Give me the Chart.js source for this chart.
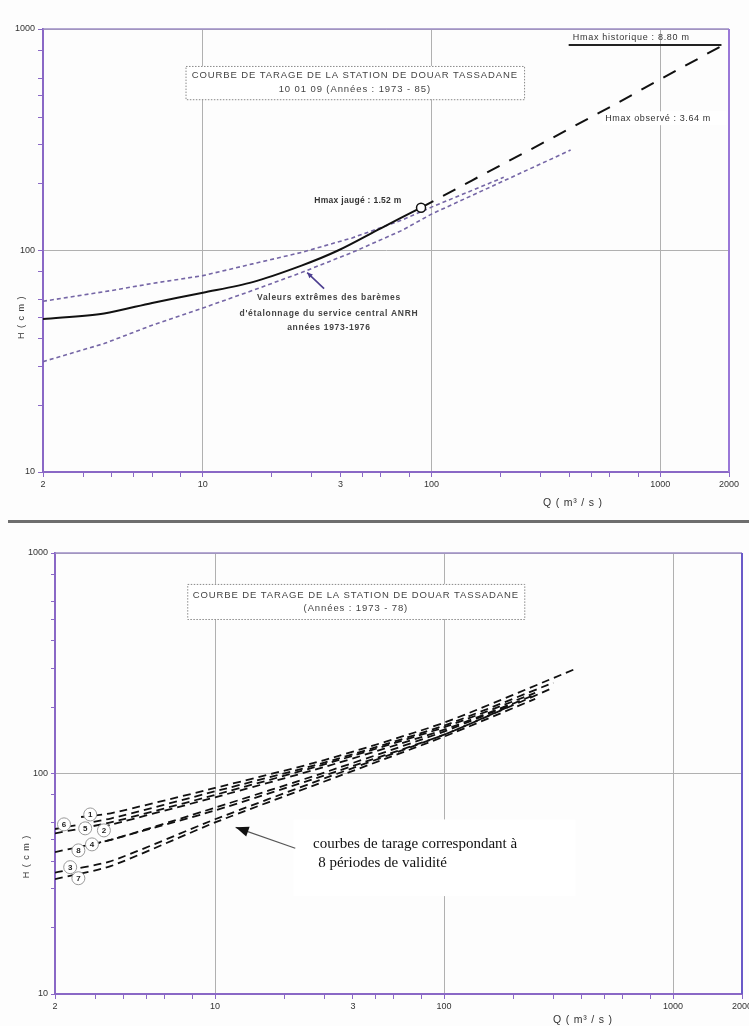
<!DOCTYPE html>
<html><head><meta charset="utf-8">
<script src="https://cdn.jsdelivr.net/npm/chart.js@4.4.1/dist/chart.umd.min.js"></script>
<style>
html,body{margin:0;padding:0;background:#fdfdfd;}
#wrap{position:relative;width:749px;height:1026px;overflow:hidden;background:#fdfdfd;}
#c1{position:absolute;left:0;top:0;}
#c2{position:absolute;left:0;top:524px;}
#sep{position:absolute;left:8px;top:520px;width:741px;height:3px;background:#6e6e6e;}
</style></head>
<body><div id="wrap">
<canvas id="c1" width="749" height="519"></canvas>
<div id="sep"></div>
<canvas id="c2" width="749" height="502"></canvas>
</div>
<script>
// ---------- axes (shared) ----------
const X_TICKS = [2,3,4,5,6,8,10,20,30,40,50,60,80,100,200,300,400,500,600,800,1000,2000];
const X_LABELS = {2:'2',10:'10',40:'3',100:'100',1000:'1000',2000:'2000'};
const Y_TICKS = [10,20,30,40,50,60,80,100,200,300,400,500,600,800,1000];
const Y_LABELS = {10:'10',100:'100',1000:'1000'};
const GRID_X = [10,100,1000];
const GRID_Y = [100,1000];

// ---------- top chart data (Q m3/s, H cm) ----------
const topSolidQ = [2, 3.7, 6, 10, 16.5, 27, 39, 60, 90];
const topSolidH = [49, 52, 58, 64.5, 72, 85.5, 100, 126, 156];
const topExtrapQ = [90, 150, 300, 600, 1000, 2000];
const topExtrapH = [156, 207, 302, 443, 592, 875];
const topUpperQ = [2, 3, 4, 6, 10, 16.5, 27, 45, 74, 100, 207];
const topUpperH = [59, 63, 66, 71, 77, 87, 98, 114, 137, 157, 214];
const topLowerQ = [2, 3.7, 6, 10, 16.5, 27, 45, 74, 100, 406];
const topLowerH = [31.5, 38, 46, 55, 66, 79.5, 98, 123, 146, 284];
const gaugedQ = [90];
const gaugedH = [156];

// ---------- bottom chart data: 8 validity periods ----------
const periodNames = ['1','2','3','4','5','6','7','8'];
const p1Q = [2.6, 3.5, 10, 30, 100, 380]; const p1H = [63.5, 66, 86, 115, 170, 300];
const p2Q = [3.2, 3.5, 10, 30, 100, 200]; const p2H = [57, 58.5, 78, 107, 158, 208];
const p3Q = [2, 3.5, 10, 30, 100, 300];   const p3H = [35.5, 40, 62, 95, 150, 245];
const p4Q = [2.9, 3.5, 10, 30, 100, 200]; const p4H = [47.5, 50, 68, 98, 150, 205];
const p5Q = [2, 3.5, 10, 30, 100, 250];   const p5H = [53.5, 60, 80, 110, 162, 232];
const p6Q = [2, 3.5, 10, 30, 100, 300];   const p6H = [56, 62.5, 83, 112, 165, 258];
const p7Q = [2, 3.5, 10, 30, 100, 250];   const p7H = [33.2, 38, 60, 92, 147, 218];
const p8Q = [2, 3.5, 10, 30, 100, 250];   const p8H = [44, 50, 70, 101, 155, 228];
const periodQ = [p1Q,p2Q,p3Q,p4Q,p5Q,p6Q,p7Q,p8Q];
const periodH = [p1H,p2H,p3H,p4H,p5H,p6H,p7H,p8H];
// where each period's circled number sits (data coords)
const markQ = [2.85, 3.27, 2.33, 2.9, 2.71, 2.19, 2.53, 2.53];
const markH = [65.2, 55.2, 37.6, 47.7, 56.4, 58.8, 33.5, 44.8];

// ---------- helpers ----------
const pts = (q,h) => q.map((v,i)=>({x:v,y:h[i]}));
const PURPLE = '#8a68c6';
const SANS = '"Liberation Sans", Arial, sans-serif';

function P(chart,q,h){ return [chart.scales.x.getPixelForValue(q), chart.scales.y.getPixelForValue(h)]; }
function txt(c,s,x,y,font,color,align,ls){
  c.font=font; c.fillStyle=color; c.textAlign=align||'left'; c.textBaseline='middle';
  try{ c.letterSpacing = ls||'0px'; }catch(e){}
  c.fillText(s,x,y);
  try{ c.letterSpacing='0px'; }catch(e){}
}
function whiteRect(chart,q1,h1,q2,h2,dotted){
  const c=chart.ctx; const [x1,y1]=P(chart,q1,h1); const [x2,y2]=P(chart,q2,h2);
  c.save(); c.fillStyle='#ffffff'; c.fillRect(x1,y1,x2-x1,y2-y1);
  if(dotted){ c.setLineDash([1.5,1.5]); c.strokeStyle='#8a8a8a'; c.lineWidth=1; c.strokeRect(x1+0.5,y1+0.5,x2-x1,y2-y1); }
  c.restore();
}
function frame(chart, rightColor){
  const c=chart.ctx, a=chart.chartArea; c.save();
  c.strokeStyle='#9c8cc4'; c.lineWidth=1.5; c.beginPath(); c.moveTo(a.left,a.top); c.lineTo(a.right,a.top); c.stroke();
  c.strokeStyle=rightColor; c.lineWidth=2; c.beginPath(); c.moveTo(a.right,a.top); c.lineTo(a.right,a.bottom); c.stroke();
  c.restore();
}
function yTitle(chart,x,hCenter){
  const c=chart.ctx; const y=chart.scales.y.getPixelForValue(hCenter);
  c.save(); c.translate(x,y); c.rotate(-Math.PI/2);
  txt(c,'H ( c m )',0,0,'9px '+SANS,'#333','center','1px'); c.restore();
}

function scales(yWidth, xHeight, tickLenY){
  return {
    x:{ type:'logarithmic', min:2, max:2000,
      afterBuildTicks:s=>{ s.ticks = X_TICKS.map(v=>({value:v})); },
      afterFit:s=>{ s.height = xHeight; s.paddingLeft=0; s.paddingRight=0; },
      ticks:{ autoSkip:false, maxRotation:0, minRotation:0, padding:2, color:'#333',
        font:{family:SANS,size:9}, callback:v=> X_LABELS[v] || '' },
      grid:{ color:ctx=> (ctx.tick && GRID_X.includes(ctx.tick.value)) ? '#b0b0b0' : 'rgba(0,0,0,0)',
        lineWidth:1, tickColor:PURPLE, tickLength:5, drawTicks:true },
      border:{ color:PURPLE, width:2 }
    },
    y:{ type:'logarithmic', min:10, max:1000,
      afterBuildTicks:s=>{ s.ticks = Y_TICKS.map(v=>({value:v})); },
      afterFit:s=>{ s.width = yWidth; s.paddingTop=0; s.paddingBottom=0; },
      ticks:{ autoSkip:false, padding:3, color:'#333', font:{family:SANS,size:9},
        callback:v=> Y_LABELS[v] || '' },
      grid:{ color:ctx=> (ctx.tick && GRID_Y.includes(ctx.tick.value)) ? '#b0b0b0' : 'rgba(0,0,0,0)',
        lineWidth:1, tickColor:PURPLE, tickLength:tickLenY, drawTicks:true },
      border:{ color:PURPLE, width:2 }
    }
  };
}

// ---------- top chart ----------
const topNotes = {
  id:'topNotes',
  beforeDatasetsDraw(chart){
    whiteRect(chart, 8.4,681, 254,482, true);
    whiteRect(chart, 560,425, 1950,368, false);
  },
  afterDatasetsDraw(chart){
    const c=chart.ctx; c.save();
    const F='9.5px '+SANS;
    let [x,y]=P(chart,46.2,618); txt(c,'COURBE DE TARAGE DE LA STATION DE DOUAR TASSADANE',x,y,F,'#444','center','0.9px');
    [x,y]=P(chart,46.2,535); txt(c,'10 01 09 (Années : 1973 - 85)',x,y,F,'#444','center','0.9px');
    // Hmax historique
    [x,y]=P(chart,415,911); txt(c,'Hmax historique : 8.80 m',x,y,'9px '+SANS,'#333','left','0.7px');
    let [ux1,uy]=P(chart,398,847); let [ux2]=P(chart,1854,847);
    c.strokeStyle='#222'; c.lineWidth=2; c.beginPath(); c.moveTo(ux1,uy); c.lineTo(ux2,uy); c.stroke();
    [x,y]=P(chart,575,395); txt(c,'Hmax observé : 3.64 m',x,y,'9px '+SANS,'#333','left','0.6px');
    [x,y]=P(chart,30.7,168); txt(c,'Hmax jaugé : 1.52 m',x,y,'bold 8.5px '+SANS,'#333','left','0.3px');
    const B='bold 8.5px '+SANS;
    [x,y]=P(chart,35.6,61.3); txt(c,'Valeurs extrêmes des barèmes',x,y,B,'#444','center','0.7px');
    [x,y]=P(chart,35.6,51.9); txt(c,"d'étalonnage du service central ANRH",x,y,B,'#444','center','0.7px');
    [x,y]=P(chart,35.6,44.9); txt(c,'années 1973-1976',x,y,B,'#444','center','0.7px');
    // arrow to the envelope
    const [ax1,ay1]=P(chart,33.9,67.3), [ax2,ay2]=P(chart,28.6,79.5);
    c.strokeStyle='#4b3d8f'; c.fillStyle='#4b3d8f'; c.lineWidth=1.6;
    c.beginPath(); c.moveTo(ax1,ay1); c.lineTo(ax2,ay2); c.stroke();
    const ang=Math.atan2(ay2-ay1,ax2-ax1);
    c.beginPath(); c.moveTo(ax2,ay2);
    c.lineTo(ax2-6*Math.cos(ang-0.45),ay2-6*Math.sin(ang-0.45));
    c.lineTo(ax2-6*Math.cos(ang+0.45),ay2-6*Math.sin(ang+0.45)); c.closePath(); c.fill();
    c.restore();
  },
  afterDraw(chart){
    frame(chart,'#9a78d8');
    const c=chart.ctx, a=chart.chartArea;
    yTitle(chart, a.left-21, 50);
    const xq=chart.scales.x.getPixelForValue(415);
    txt(c,'Q ( m³ / s )',xq,a.bottom+31,'10.5px '+SANS,'#333','center','0.8px');
  }
};

new Chart(document.getElementById('c1'), {
  type:'line',
  data:{ datasets:[
    { data:pts(gaugedQ,gaugedH), showLine:false, pointRadius:4.5, pointBackgroundColor:'#fff',
      pointBorderColor:'#111', pointBorderWidth:1.5 },
    { data:pts(topSolidQ,topSolidH), borderColor:'#111', borderWidth:2, pointRadius:0, tension:0.3 },
    { data:pts(topExtrapQ,topExtrapH), borderColor:'#111', borderWidth:2, pointRadius:0, borderDash:[14,11] },
    { data:pts(topUpperQ,topUpperH), borderColor:'#7566a6', borderWidth:1.6, pointRadius:0, borderDash:[4,3] },
    { data:pts(topLowerQ,topLowerH), borderColor:'#7566a6', borderWidth:1.6, pointRadius:0, borderDash:[4,3] }
  ]},
  options:{ responsive:false, animation:false, events:[],
    layout:{ padding:{ top:29, right:20, left:0, bottom:0 } },
    plugins:{ legend:{display:false}, tooltip:{enabled:false} },
    scales: scales(43, 47, 5)
  },
  plugins:[topNotes]
});

// ---------- bottom chart ----------
const bottomNotes = {
  id:'bottomNotes',
  beforeDatasetsDraw(chart){
    whiteRect(chart, 7.56,724, 224,502, true);
    whiteRect(chart, 22.0,61.9, 375,27.8, false);
  },
  afterDatasetsDraw(chart){
    const c=chart.ctx; c.save();
    const F='9.5px '+SANS;
    let [x,y]=P(chart,41.2,645); txt(c,'COURBE DE TARAGE DE LA STATION DE DOUAR TASSADANE',x,y,F,'#444','center','0.9px');
    [x,y]=P(chart,41.2,558); txt(c,'(Années : 1973 - 78)',x,y,F,'#444','center','0.9px');
    const S='15px "Liberation Serif", "Times New Roman", serif';
    [x,y]=P(chart,26.8,47.7); txt(c,'courbes de tarage correspondant à',x,y,S,'#111','left');
    [x,y]=P(chart,28.2,39.1); txt(c,'8 périodes de validité',x,y,S,'#111','left');
    // arrow
    const [ax1,ay1]=P(chart,22.4,45.8), [ax2,ay2]=P(chart,12.3,57.0);
    c.strokeStyle='#555'; c.fillStyle='#111'; c.lineWidth=1.2;
    c.beginPath(); c.moveTo(ax1,ay1); c.lineTo(ax2,ay2); c.stroke();
    const ang=Math.atan2(ay2-ay1,ax2-ax1);
    c.beginPath(); c.moveTo(ax2,ay2);
    c.lineTo(ax2-14*Math.cos(ang-0.38),ay2-14*Math.sin(ang-0.38));
    c.lineTo(ax2-14*Math.cos(ang+0.38),ay2-14*Math.sin(ang+0.38)); c.closePath(); c.fill();
    // circled period numbers
    periodNames.forEach((n,i)=>{
      const [px,py]=P(chart,markQ[i],markH[i]);
      c.beginPath(); c.arc(px,py,6.5,0,Math.PI*2); c.fillStyle='#fff'; c.fill();
      c.strokeStyle='#999'; c.lineWidth=1; c.stroke();
      txt(c,n,px,py+0.5,'bold 8px '+SANS,'#222','center');
    });
    c.restore();
  },
  afterDraw(chart){
    frame(chart,'#6a5ac8');
    const c=chart.ctx, a=chart.chartArea;
    yTitle(chart, a.left-28, 42);
    const xq=chart.scales.x.getPixelForValue(404);
    txt(c,'Q ( m³ / s )',xq,a.bottom+26,'10.5px '+SANS,'#333','center','0.8px');
  }
};

new Chart(document.getElementById('c2'), {
  type:'line',
  data:{ datasets: periodQ.map((q,i)=>({
    label:'Période '+periodNames[i], data:pts(q,periodH[i]), borderColor:'#111', borderWidth:1.8,
    pointRadius:0, borderDash:[8,5], tension:0.2 })) },
  options:{ responsive:false, animation:false, events:[],
    layout:{ padding:{ top:29, right:7, left:0, bottom:0 } },
    plugins:{ legend:{display:false}, tooltip:{enabled:false} },
    scales: scales(55, 32, 4)
  },
  plugins:[bottomNotes]
});
</script>
</body></html>
